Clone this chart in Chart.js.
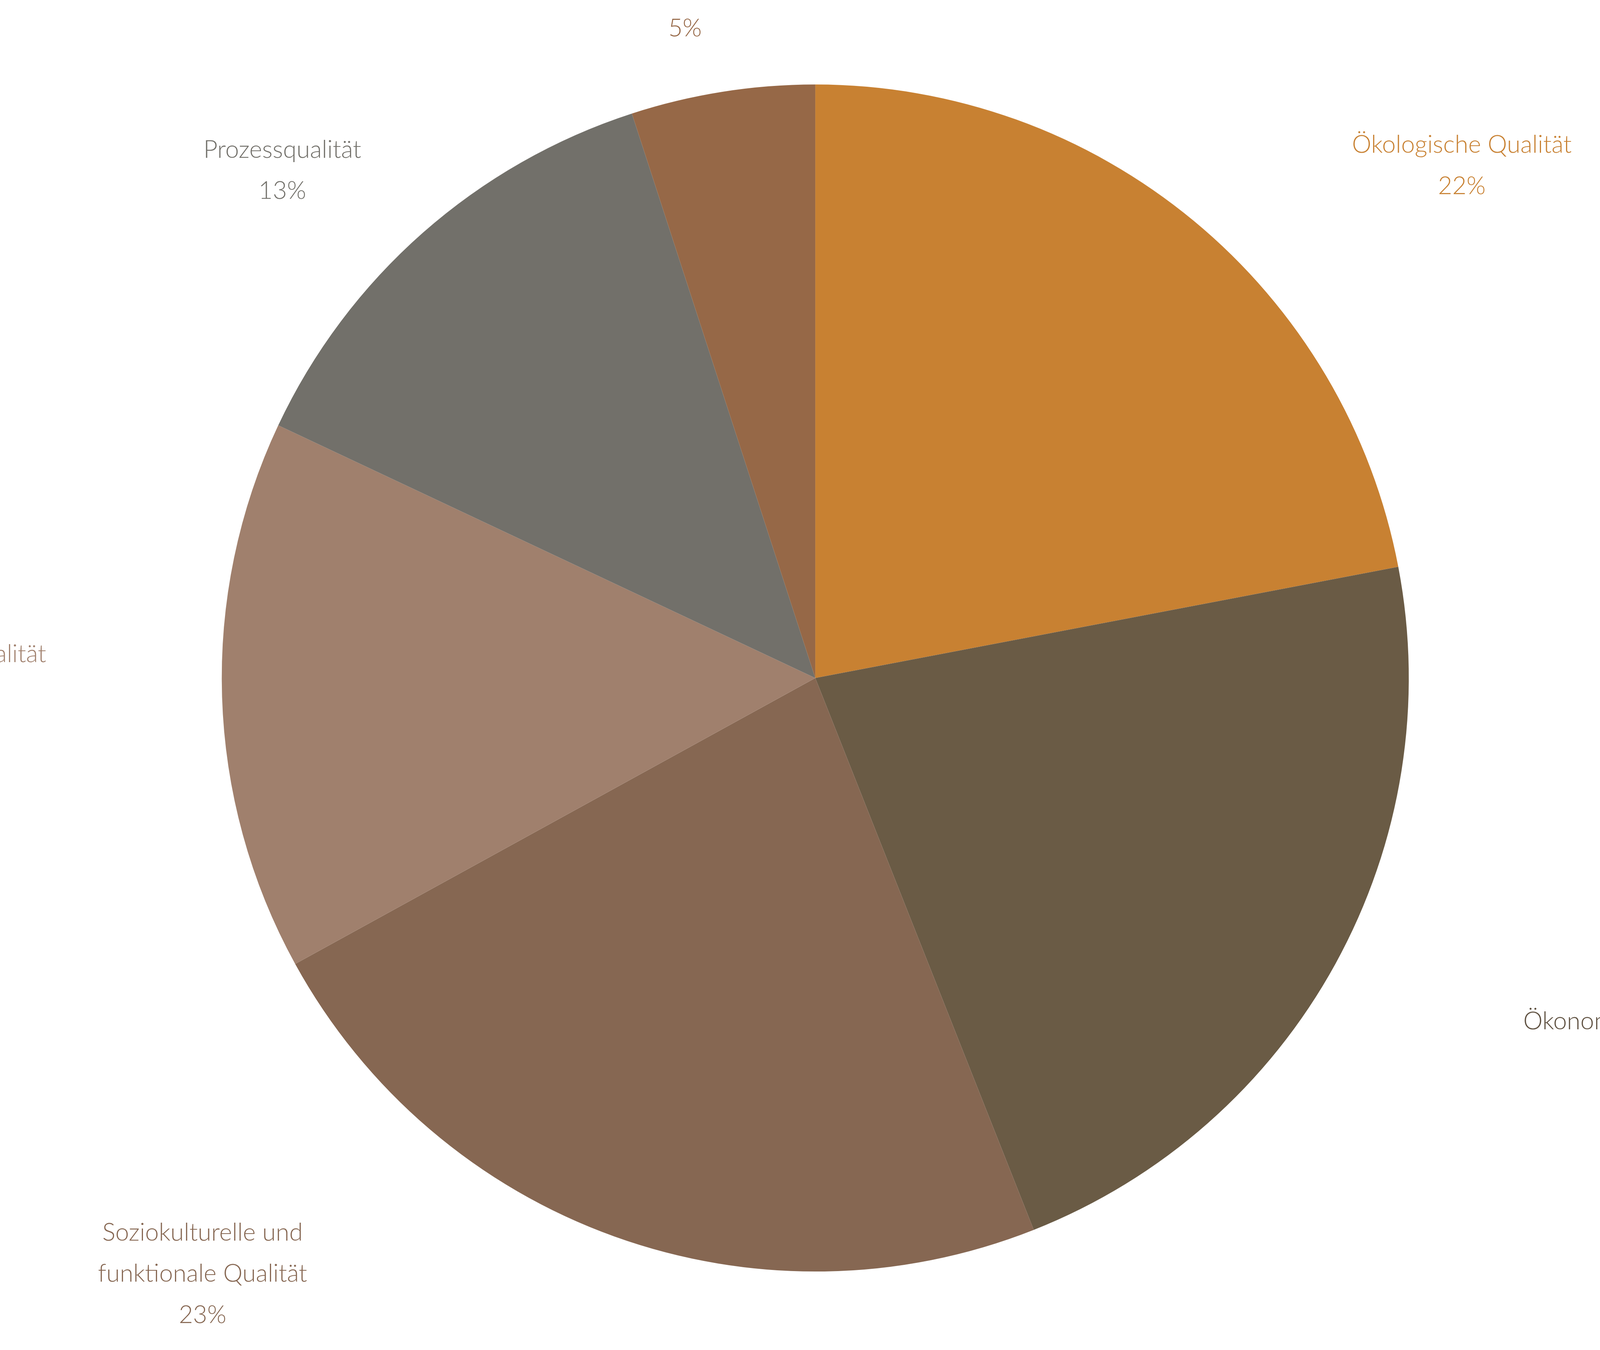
<!DOCTYPE html>
<html><head><meta charset="utf-8">
<script src="https://cdn.jsdelivr.net/npm/chart.js@4/dist/chart.umd.min.js"></script>
<style>html,body{margin:0;padding:0;background:#fff;overflow:hidden}#w{position:relative;width:100vw;height:100vh}</style>
</head><body>
<div id="w"><canvas id="c"></canvas></div>
<script>
const categories = ["Ökologische Qualität","Ökonomische Qualität",["Soziokulturelle und","funktionale Qualität"],"Technische Qualität","Prozessqualität","Standortqualität"];
const values = [22,22,23,15,13,5];
const colors = ["#C88132","#6A5B45","#866752","#A0806D","#72706A","#966847"];
const textColors = ["#C88132","#5E5040","#866752","#A0806D","#72706A","#966847"];
// label placement tweaks (style only)
const labelAngleShift = [12,-5,26,2,-5,-2];
const labelDist = [1.39,1.52,1.44,1.47,1.24,1.15];

const labelPlugin = {
  id:'outLabels',
  afterDraw(chart){
    const ctx = chart.ctx;
    const s = chart.width/6912;
    const meta = chart.getDatasetMeta(0);
    ctx.save();
    ctx.font = '300 '+(106*s)+'px Lato, "Open Sans", sans-serif';
    ctx.textAlign='center'; ctx.textBaseline='middle';
    const total = values.reduce((a,b)=>a+b,0);
    meta.data.forEach((arc,i)=>{
      const mid = (arc.startAngle+arc.endAngle)/2 + labelAngleShift[i]*Math.PI/180;
      const r = arc.outerRadius*labelDist[i];
      const x = arc.x + Math.cos(mid)*r, y = arc.y + Math.sin(mid)*r;
      const lines = [].concat(categories[i]);
      lines.push(Math.round(values[i]/total*100)+'%');
      const lh = 178*s;
      ctx.fillStyle = textColors[i];
      lines.forEach((t,k)=>ctx.fillText(t,x,y+(k-(lines.length-1)/2)*lh));
    });
    ctx.restore();
  }
};

new Chart(document.getElementById('c'),{
  type:'pie',
  data:{labels:categories.map(c=>[].concat(c).join(' ')),datasets:[{data:values,backgroundColor:colors,borderWidth:0}]},
  options:{responsive:true,maintainAspectRatio:false,animation:false,
    layout:{padding:(ctx)=>{const s=ctx.chart.width/6912;return {top:365*s,bottom:339*s,left:132*s,right:0};}},
    plugins:{legend:{display:false},tooltip:{enabled:false}}},
  plugins:[labelPlugin]
});
</script>
</body></html>
